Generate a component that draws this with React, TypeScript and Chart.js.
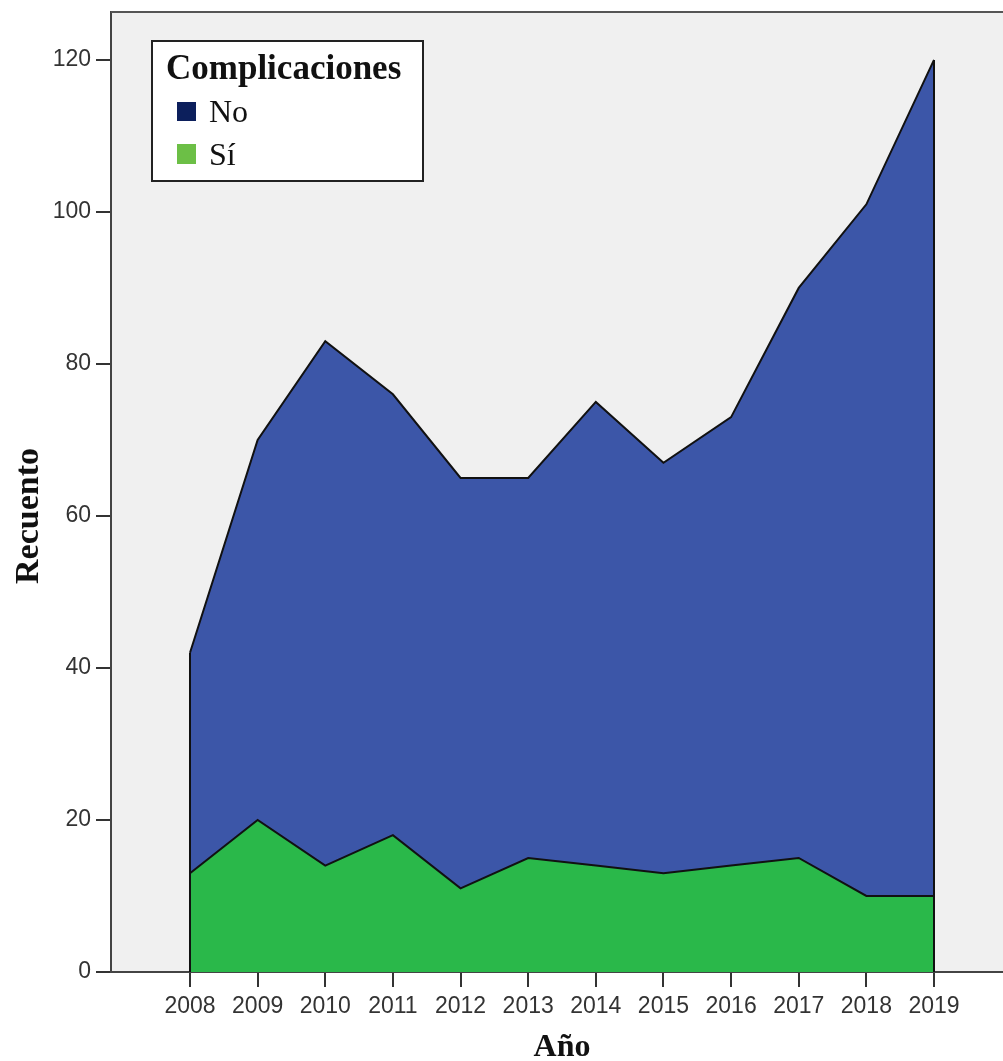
import React, { useEffect, useRef } from "react";
import { Chart, registerables } from "chart.js";

Chart.register(...registerables);

const years = [2008, 2009, 2010, 2011, 2012, 2013, 2014, 2015, 2016, 2017, 2018, 2019];
const siValues = [13, 20, 14, 18, 11, 15, 14, 13, 14, 15, 10, 10];
const noValues = [29, 50, 69, 58, 54, 50, 61, 54, 59, 75, 91, 110];
const yTicks = [0, 20, 40, 60, 80, 100, 120];
const legendTitle = "Complicaciones";
const noLabel = "No";
const siLabel = "Sí";
const xTitle = "Año";
const yTitle = "Recuento";

const BLUE = "rgb(60,86,168)";
const GREEN = "rgb(42,184,74)";
const LEGEND_NO = "#0c1f5c";
const LEGEND_SI = "#6cbf46";

export default function App() {
  const ref = useRef<HTMLCanvasElement | null>(null);

  useEffect(() => {
    if (!ref.current) return;
    const bgPlugin = {
      id: "bgPlugin",
      beforeDraw(chart: any) {
        const { ctx, chartArea } = chart;
        ctx.save();
        ctx.fillStyle = "#ffffff";
        ctx.fillRect(0, 0, chart.width, chart.height);
        ctx.fillStyle = "#f0f0f0";
        ctx.fillRect(chartArea.left, chartArea.top, chartArea.right - chartArea.left, chartArea.bottom - chartArea.top);
        ctx.restore();
      },
      afterDatasetsDraw(chart: any) {
        const { ctx, chartArea } = chart;
        const yScale = chart.scales.y;
        const topMeta = chart.getDatasetMeta(1);
        ctx.save();
        ctx.strokeStyle = "#111";
        ctx.lineWidth = 2;
        [0, years.length - 1].forEach((i) => {
          const pt = topMeta.data[i];
          ctx.beginPath();
          ctx.moveTo(pt.x, yScale.getPixelForValue(0));
          ctx.lineTo(pt.x, pt.y);
          ctx.stroke();
        });
        // top frame
        ctx.strokeStyle = "#555";
        ctx.lineWidth = 2;
        ctx.beginPath();
        ctx.moveTo(chartArea.left, chartArea.top);
        ctx.lineTo(chartArea.right + 10, chartArea.top);
        ctx.stroke();
        ctx.restore();
      },
      afterDraw(chart: any) {
        const { ctx } = chart;
        ctx.save();
        // axis titles
        ctx.fillStyle = "#111";
        ctx.font = "bold 32px 'Liberation Serif'";
        ctx.textAlign = "center";
        ctx.textBaseline = "alphabetic";
        ctx.fillText(xTitle, 562, 1056);
        ctx.save();
        ctx.translate(38, 516);
        ctx.rotate(-Math.PI / 2);
        ctx.font = "bold 34px 'Liberation Serif'";
        ctx.fillText(yTitle, 0, 0);
        ctx.restore();
        // legend
        ctx.fillStyle = "#ffffff";
        ctx.fillRect(152, 41, 271, 140);
        ctx.strokeStyle = "#222";
        ctx.lineWidth = 2;
        ctx.strokeRect(152, 41, 271, 140);
        ctx.fillStyle = "#111";
        ctx.textAlign = "left";
        ctx.font = "bold 35px 'Liberation Serif'";
        ctx.fillText(legendTitle, 166, 79);
        ctx.font = "32px 'Liberation Serif'";
        ctx.fillStyle = LEGEND_NO;
        ctx.fillRect(177, 102, 19, 19);
        ctx.fillStyle = "#111";
        ctx.fillText(noLabel, 209, 122);
        ctx.fillStyle = LEGEND_SI;
        ctx.fillRect(177, 144, 19, 20);
        ctx.fillStyle = "#111";
        ctx.fillText(siLabel, 209, 165);
        ctx.restore();
      },
    };

    const chart = new Chart(ref.current, {
      type: "line",
      data: {
        datasets: [
          {
            label: siLabel,
            data: years.map((x, i) => ({ x, y: siValues[i] })),
            fill: "origin",
            backgroundColor: GREEN,
            borderColor: "#111",
            borderWidth: 2,
            pointRadius: 0,
            tension: 0,
          },
          {
            label: noLabel,
            data: years.map((x, i) => ({ x, y: noValues[i] })),
            fill: "-1",
            backgroundColor: BLUE,
            borderColor: "#111",
            borderWidth: 2,
            pointRadius: 0,
            tension: 0,
          },
        ],
      },
      options: {
        animation: false,
        responsive: false,
        layout: { padding: { left: 0, top: 12, right: 7, bottom: 0 } },
        plugins: { legend: { display: false }, tooltip: { enabled: false } },
        scales: {
          x: {
            type: "linear",
            min: 2006.832,
            max: 2020.168,
            afterBuildTicks: (scale: any) => {
              scale.ticks = years.map((v) => ({ value: v }));
            },
            afterFit: (scale: any) => {
              scale.height = 89;
              scale.paddingLeft = 0;
              scale.paddingRight = 0;
            },
            grid: {
              drawOnChartArea: false,
              drawTicks: true,
              tickLength: 15,
              tickColor: "#333",
              lineWidth: 2,
            },
            border: { display: true, color: "#444", width: 2 },
            ticks: {
              autoSkip: false,
              maxRotation: 0,
              padding: 6,
              color: "#333",
              font: { family: "'Liberation Sans'", size: 23 },
              callback: (v: any) => String(v),
            },
          },
          y: {
            type: "linear",
            stacked: true,
            min: 0,
            max: 126.3,
            afterBuildTicks: (scale: any) => {
              scale.ticks = yTicks.map((v) => ({ value: v }));
            },
            afterFit: (scale: any) => {
              scale.width = 111;
              scale.paddingTop = 0;
              scale.paddingBottom = 0;
            },
            grid: {
              drawOnChartArea: false,
              drawTicks: true,
              tickLength: 15,
              tickColor: "#333",
              lineWidth: 2,
            },
            border: { display: true, color: "#444", width: 2 },
            ticks: {
              padding: 5,
              color: "#333",
              font: { family: "'Liberation Sans'", size: 23 },
              callback: (v: any) => String(v),
            },
          },
        },
      },
      plugins: [bgPlugin],
    });
    return () => chart.destroy();
  }, []);

  return (
    <div
      style={{
        position: "fixed",
        left: 0,
        top: 0,
        width: 1003,
        height: 1061,
        overflow: "hidden",
        background: "#fff",
      }}
    >
      <canvas ref={ref} width={1020} height={1061} style={{ width: 1020, height: 1061, display: "block" }} />
    </div>
  );
}
